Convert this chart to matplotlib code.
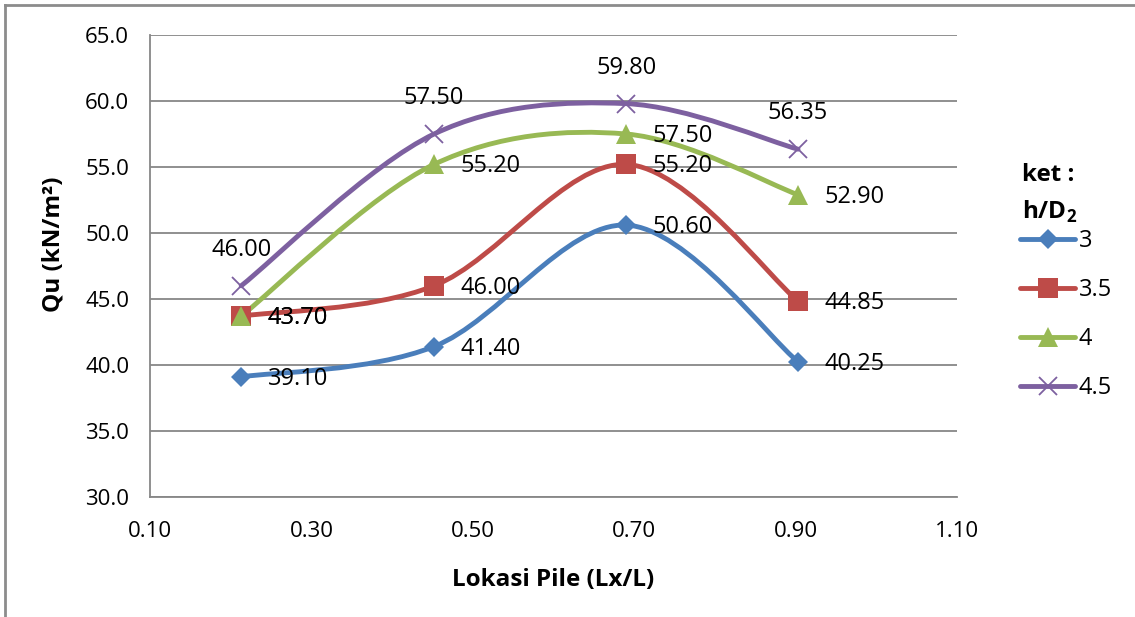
import numpy as np
import matplotlib
matplotlib.use("Agg")
import matplotlib.pyplot as plt
from matplotlib.path import Path
from matplotlib.patches import PathPatch
from matplotlib.lines import Line2D

plt.rcParams.update({
    "font.family": ["Open Sans", "DejaVu Sans"],
    "mathtext.fontset": "custom",
    "mathtext.rm": "Open Sans",
    "mathtext.bf": "Open Sans:bold",
    "figure.facecolor": "white",
    "axes.facecolor": "white",
})

# pile location and ultimate bearing for each h/D2 ratio
lokasi = [0.213, 0.452, 0.690, 0.903]
seri = ["3", "3.5", "4", "4.5"]
qu_3 = [39.10, 41.40, 50.60, 40.25]
qu_35 = [43.70, 46.00, 55.20, 44.85]
qu_4 = [43.70, 55.20, 57.50, 52.90]
qu_45 = [46.00, 57.50, 59.80, 56.35]
x_ticks = [0.10, 0.30, 0.50, 0.70, 0.90, 1.10]
y_ticks = [30.0, 35.0, 40.0, 45.0, 50.0, 55.0, 60.0, 65.0]

warna = ["#4a7ebb", "#be4b48", "#98b954", "#7d60a0"]
marker = ["D", "s", "^", "x"]
msize = [10.5, 14.5, 14.5, 12.5]
label_pos = ["right", "right", "right", "above"]


def smooth_path(xs, ys):
    # Catmull-Rom style bezier, like a smoothed spreadsheet line
    p = np.column_stack([xs, ys])
    n = len(p)
    verts = [p[0]]
    codes = [Path.MOVETO]
    for i in range(n - 1):
        p0 = p[i - 1] if i > 0 else p[i]
        p3 = p[i + 2] if i + 2 < n else p[i + 1]
        c1 = p[i] + (p[i + 1] - p0) / 6.0
        c2 = p[i + 1] - (p3 - p[i]) / 6.0
        verts += [c1, c2, p[i + 1]]
        codes += [Path.CURVE4] * 3
    return Path(verts, codes)


fig = plt.figure(figsize=(11.35, 6.17), dpi=100)
ax = fig.add_axes([150 / 1135, 120 / 617, 807 / 1135, 462 / 617])

grid_c = "#878787"
handles = []
for vals, c, m, ms, pos in zip([qu_3, qu_35, qu_4, qu_45], warna, marker,
                               msize, label_pos):
    ax.add_patch(PathPatch(smooth_path(lokasi, vals), fc="none", ec=c,
                           lw=3.5, capstyle="round", zorder=3))
    mew = 1.3 if m == "x" else 0
    ax.plot(lokasi, vals, ls="none", marker=m, ms=ms, color=c, mew=mew,
            zorder=4)
    handles.append(Line2D([], [], color=c, lw=3.5, marker=m, ms=ms, mew=mew,
                          solid_capstyle="round"))
    for x, y in zip(lokasi, vals):
        if pos == "right":
            ax.annotate(f"{y:.2f}", (x, y), xytext=(19, -1.5),
                        textcoords="offset points", ha="left", va="center",
                        fontsize=17, color="black", zorder=5)
        else:
            ax.annotate(f"{y:.2f}", (x, y), xytext=(0, 26),
                        textcoords="offset points", ha="center", va="center",
                        fontsize=17, color="black", zorder=5)

ax.set_xlim(0.10, 1.10)
ax.set_ylim(30.0, 65.0)
ax.set_xticks(x_ticks)
ax.set_xticklabels([f"{v:.2f}" for v in x_ticks])
ax.set_yticks(y_ticks)
ax.set_yticklabels([f"{v:.1f}" for v in y_ticks])
ax.tick_params(length=0, labelsize=16, pad=17)
ax.tick_params(axis="y", pad=15)
ax.yaxis.grid(True, color=grid_c, lw=1.3)
ax.set_axisbelow(True)
for s in ("top", "right"):
    ax.spines[s].set_visible(False)
for s in ("left", "bottom"):
    ax.spines[s].set_color(grid_c)
    ax.spines[s].set_linewidth(1.3)

ax.set_xlabel("Lokasi Pile (Lx/L)", fontsize=17.5, fontweight="bold")
ax.xaxis.set_label_coords(0.5, (497 - 568) / 462)
ax.set_ylabel("Qu (kN/m²)", fontsize=17.5, fontweight="bold")
ax.yaxis.set_label_coords((66 - 150) / 807, (497 - 244) / 462)

# legend title as two lines of bold text
fig.text(1022 / 1135, 1 - 175 / 617, "ket :", fontsize=17.5,
         fontweight="bold", ha="left", va="center")
fig.text(1022 / 1135, 1 - 212 / 617, "h/D$_{\\mathbf{2}}$", fontsize=17.5,
         fontweight="bold", ha="left", va="center")

ax.legend(handles, seri, loc="upper left",
          bbox_to_anchor=((1020 - 150) / 807, (497 - 229) / 462),
          frameon=False, fontsize=17, handlelength=2.33,
          handletextpad=0.15, labelspacing=1.06, borderaxespad=0,
          borderpad=0)

# chart frame
fig.add_artist(Line2D([5 / 1135, 5 / 1135], [0, 612 / 617], color="#8c8c8c",
                      lw=2, transform=fig.transFigure))
fig.add_artist(Line2D([5 / 1135, 1], [612 / 617, 612 / 617], color="#8c8c8c",
                      lw=2, transform=fig.transFigure))

fig.savefig("out.png", dpi=100)
